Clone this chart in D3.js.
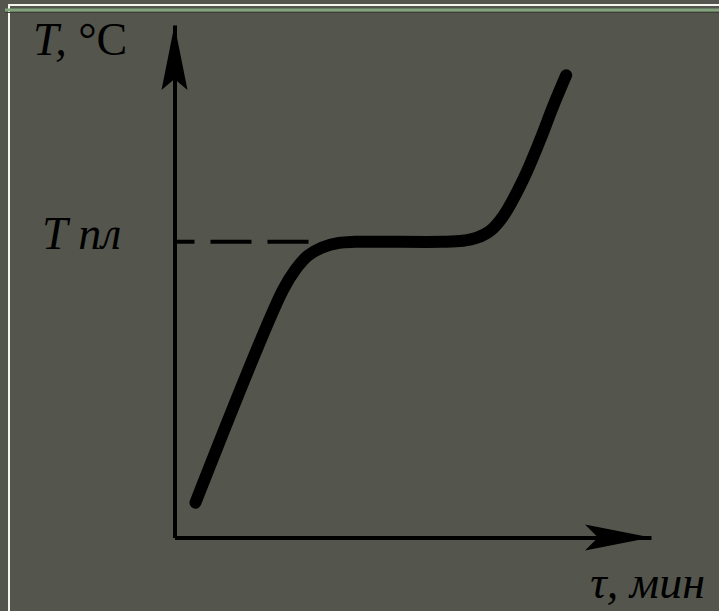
<!DOCTYPE html>
<html>
<head>
<meta charset="utf-8">
<script src="https://cdn.jsdelivr.net/npm/d3@7"></script>
<style>
  html, body { margin: 0; padding: 0; background: #54554c; }
  svg { display: block; }
  text { font-family: "Liberation Serif", "Times New Roman", serif; fill: #000; }
</style>
</head>
<body>
<svg id="chart" width="719" height="611"></svg>
<script>
// Heating curve of a crystalline substance: temperature vs. time
const timeMin = [4.4, 22.7, 25.4, 28.0, 31.0, 34.5, 38.0, 56.0, 60.5, 63.5, 66.2, 68.9, 73.1, 76.7, 79.4, 82.2];
const tempC   = [6.8, 48.2, 52.3, 55.0, 56.6, 57.5, 57.7, 57.7, 57.9, 58.5, 59.8, 62.6, 69.7, 77.5, 84.0, 90.2];
const meltTemp = 57.7;          // plateau (melting point)
const dashEnd = 28.8;           // reference line runs from the axis to the curve
const axisLabels = { x: "τ, мин", melt: "T пл" };

const W = 719, H = 611;
const svg = d3.select("#chart");

// frame
svg.append("rect").attr("width", W).attr("height", H).attr("fill", "#54554c");
svg.append("line").attr("x1", 8).attr("x2", W).attr("y1", 5).attr("y2", 5)
  .attr("stroke", "#f4f4f0").attr("stroke-width", 2);
svg.append("line").attr("x1", 9).attr("x2", 9).attr("y1", 5).attr("y2", H)
  .attr("stroke", "#f4f4f0").attr("stroke-width", 2);
svg.append("line").attr("x1", 5).attr("x2", W).attr("y1", 10).attr("y2", 10)
  .attr("stroke", "#80a57c").attr("stroke-width", 3);
svg.append("line").attr("x1", 5).attr("x2", W).attr("y1", 12.5).attr("y2", 12.5)
  .attr("stroke", "#3e3f38").attr("stroke-width", 1);

const x = d3.scaleLinear().domain([0, 100]).range([174.5, 651]);
const y = d3.scaleLinear().domain([0, 100]).range([537.5, 25]);

// axes (domain lines only)
const gy = svg.append("g").attr("transform", `translate(${x(0)},0)`)
  .call(d3.axisLeft(y).tickValues([]).tickSizeOuter(0));
const gx = svg.append("g").attr("transform", `translate(0,${y(0)})`)
  .call(d3.axisBottom(x).tickValues([]).tickSizeOuter(0));
[gy, gx].forEach(g => g.select(".domain").attr("stroke", "#000").attr("stroke-width", 4));

// arrowheads
const yTip = [x(0), y(100)];
svg.append("path")
  .attr("d", `M${yTip[0]},${yTip[1]} L${yTip[0] + 13},${yTip[1] + 65} L${yTip[0]},${yTip[1] + 54} L${yTip[0] - 13},${yTip[1] + 65} Z`)
  .attr("fill", "#000");
const xTip = [x(100), y(0)];
svg.append("path")
  .attr("d", `M${xTip[0]},${xTip[1]} L${xTip[0] - 66},${xTip[1] - 13} L${xTip[0] - 53},${xTip[1]} L${xTip[0] - 66},${xTip[1] + 13} Z`)
  .attr("fill", "#000");

// dashed melting-point line
svg.append("line")
  .attr("x1", x(0)).attr("x2", x(dashEnd))
  .attr("y1", y(meltTemp)).attr("y2", y(meltTemp))
  .attr("stroke", "#000").attr("stroke-width", 4)
  .attr("stroke-dasharray", "41,16").attr("stroke-dashoffset", 21);

// heating curve
const line = d3.line()
  .x((d, i) => x(timeMin[i]))
  .y((d, i) => y(tempC[i]))
  .curve(d3.curveCatmullRom.alpha(0.5));
svg.append("path")
  .attr("d", line(timeMin))
  .attr("fill", "none").attr("stroke", "#000")
  .attr("stroke-width", 12).attr("stroke-linecap", "round").attr("stroke-linejoin", "round");

// labels
const yl = svg.append("text").attr("x", 33).attr("y", 55).attr("font-size", 46);
yl.append("tspan").attr("font-style", "italic").text("T,");
yl.append("tspan").text(" °C");

svg.append("text").attr("x", 42).attr("y", y(meltTemp) + 7)
  .attr("font-size", 46).attr("font-style", "italic").text(axisLabels.melt);

svg.append("text").attr("x", 705).attr("y", 598).attr("text-anchor", "end")
  .attr("font-size", 46).attr("font-style", "italic").text(axisLabels.x);
</script>
</body>
</html>
